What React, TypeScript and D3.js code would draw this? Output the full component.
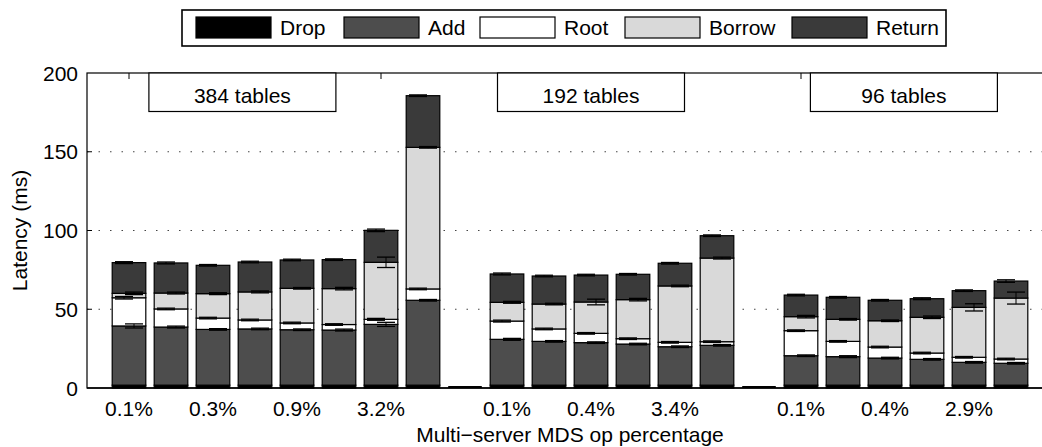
import React from "react";
import * as d3 from "d3";

// ---------- DATA ----------
const categories = [
  "0.1%", "", "0.3%", "", "0.9%", "", "3.2%", "",
  "",
  "0.1%", "", "0.4%", "", "3.4%", "",
  "",
  "0.1%", "", "0.4%", "", "2.9%", "",
];
const groupLabels = ["384 tables", "192 tables", "96 tables"];
const seriesNames = ["Drop", "Add", "Root", "Borrow", "Return"];

const drop = [1.8, 1.8, 1.8, 1.8, 1.8, 1.8, 1.8, 1.8, 0, 1.8, 1.8, 1.8, 1.8, 1.8, 1.8, 0, 1.8, 1.8, 1.8, 1.8, 1.8, 1.8];
const add = [37.6, 36.9, 35.4, 35.7, 35.2, 35.0, 38.6, 53.9, 0, 29.1, 27.8, 27.0, 26.1, 24.4, 25.3, 0, 18.7, 18.1, 17.2, 16.4, 14.5, 13.9];
const root = [17.9, 11.5, 7.2, 5.7, 4.3, 3.5, 3.2, 7.2, 0, 11.6, 7.9, 5.9, 3.4, 2.8, 2.3, 0, 15.9, 9.7, 7.0, 4.0, 3.2, 2.7];
const borrow = [2.8, 10.1, 15.5, 17.8, 22.0, 22.8, 36.2, 89.9, 0, 11.9, 15.8, 19.9, 24.8, 35.8, 53.1, 0, 8.9, 14.0, 16.7, 22.7, 31.7, 38.7];
const ret = [19.5, 19.1, 18.0, 19.0, 18.0, 18.4, 20.3, 32.8, 0, 18.0, 17.8, 17.1, 16.1, 14.4, 14.2, 0, 13.7, 14.0, 13.0, 11.8, 10.6, 10.8];

const dropErr = [0, 0, 0, 0, 0, 0, 0, 0, 0, 0, 0, 0, 0, 0, 0, 0, 0, 0, 0, 0, 0, 0];
const addErr = [1.3, 0.6, 0.5, 0.5, 0.5, 0.6, 1.3, 0.5, 0, 0.6, 0.5, 0.5, 0.5, 0.5, 0.5, 0, 0.5, 0.6, 0.5, 0.5, 0.5, 0.5];
const rootErr = [0.8, 0.5, 0.5, 0.5, 0.5, 0.5, 0.6, 0.5, 0, 0.6, 0.5, 0.5, 0.5, 0.5, 0.5, 0, 0.5, 0.5, 0.5, 0.5, 0.5, 0.5];
const borrowErr = [0.8, 0.6, 0.6, 0.6, 0.5, 0.8, 3.3, 0.5, 0, 0.6, 0.5, 1.8, 0.8, 0.5, 0.6, 0, 0.8, 0.5, 0.5, 0.8, 2.3, 3.8];
const retErr = [0.6, 0.6, 0.5, 0.5, 0.5, 0.5, 0.8, 0.5, 0, 0.6, 0.5, 0.5, 0.5, 0.5, 0.5, 0, 0.5, 0.5, 0.5, 0.6, 0.5, 0.8];

const yTicks = [0, 50, 100, 150, 200];
const gridTicks = [50, 100, 150];

// ---------- LAYOUT / STYLE ----------
const W = 1042, H = 447;
const FONT = "'Liberation Sans', Arial, Helvetica, sans-serif";
const FS = 21;
const colors: Record<string, string> = {
  Drop: "#000000",
  Add: "#4d4d4d",
  Root: "#ffffff",
  Borrow: "#d9d9d9",
  Return: "#3a3a3a",
};
const errOffset: Record<string, number> = { Drop: 0, Add: 5, Root: -5, Borrow: 5, Return: -5 };
const groupBoxCenters = [2.7, 11.0, 18.45]; // in slot units
const legendSwatchX = [196, 344, 480, 625, 792];

export default function App() {
  const x = d3.scaleLinear().domain([-1, 22]).range([87, 1053]);
  const y = d3.scaleLinear().domain([0, 200]).range([388, 73]);
  const step = x(1) - x(0);
  const bw = step * 0.8;

  const values: Record<string, number[]> = { Drop: drop, Add: add, Root: root, Borrow: borrow, Return: ret };
  const errs: Record<string, number[]> = { Drop: dropErr, Add: addErr, Root: rootErr, Borrow: borrowErr, Return: retErr };
  const rows = categories.map((c, i) => {
    const r: any = { i };
    seriesNames.forEach((s) => (r[s] = values[s][i]));
    return r;
  });
  const stack = d3.stack<any>().keys(seriesNames)(rows);

  const capW = 18;
  const xMid = (x(-1) + x(22)) / 2;
  const yMid = (y(0) + y(200)) / 2;

  return (
    <div style={{ position: "absolute", left: 0, top: 0 }}>
      <svg width={W} height={H} style={{ display: "block", fontFamily: FONT }}>
        <rect x={0} y={0} width={W} height={H} fill="#fff" />
        {/* grid */}
        {gridTicks.map((t) => (
          <g key={t}>
            <line x1={x(-1)} x2={x(22)} y1={y(t)} y2={y(t)} stroke="#444" strokeWidth={1} strokeDasharray="1.5,10" />
            <line x1={x(-1)} x2={x(-1) + 5} y1={y(t)} y2={y(t)} stroke="#000" strokeWidth={1} />
          </g>
        ))}
        {/* bars */}
        {stack.map((layer) => (
          <g key={layer.key}>
            {layer.map((d, i) => {
              if (d[1] - d[0] <= 0) return null;
              return (
                <rect
                  key={i}
                  x={x(i) - bw / 2}
                  width={bw}
                  y={y(d[1])}
                  height={y(d[0]) - y(d[1])}
                  fill={colors[layer.key]}
                  stroke="#000"
                  strokeWidth={1.2}
                />
              );
            })}
          </g>
        ))}
        {/* empty slots */}
        {rows.map((r, i) =>
          seriesNames.every((s) => r[s] === 0) ? (
            <line key={"z" + i} x1={x(i) - bw / 2} x2={x(i) + bw / 2} y1={y(0) - 1} y2={y(0) - 1} stroke="#000" strokeWidth={2} />
          ) : null
        )}
        {/* error bars */}
        {stack.map((layer) => (
          <g key={"e" + layer.key}>
            {layer.map((d, i) => {
              const e = errs[layer.key][i];
              if (!e || d[1] - d[0] <= 0) return null;
              const cx = x(i) + errOffset[layer.key];
              return (
                <g key={i} stroke="#000">
                  <line x1={cx} x2={cx} y1={y(d[1] + e)} y2={y(d[1] - e)} strokeWidth={1} />
                  <line x1={cx - capW / 2} x2={cx + capW / 2} y1={y(d[1] + e)} y2={y(d[1] + e)} strokeWidth={1.3} />
                  <line x1={cx - capW / 2} x2={cx + capW / 2} y1={y(d[1] - e)} y2={y(d[1] - e)} strokeWidth={1.3} />
                </g>
              );
            })}
          </g>
        ))}
        {/* frame */}
        <rect x={x(-1)} y={y(200)} width={x(22) - x(-1)} height={y(0) - y(200)} fill="none" stroke="#000" strokeWidth={1.2} />
        <line x1={x(-1)} x2={x(22)} y1={y(0)} y2={y(0)} stroke="#000" strokeWidth={1.6} />
        {/* top ticks */}
        {categories.map((c, i) =>
          c ? <line key={"tt" + i} x1={x(i)} x2={x(i)} y1={y(200)} y2={y(200) + 6} stroke="#000" strokeWidth={1} /> : null
        )}
        {/* x tick labels */}
        {categories.map((c, i) =>
          c ? (
            <text key={"xl" + i} x={x(i)} y={416} textAnchor="middle" fontSize={FS} fill="#000">
              {c}
            </text>
          ) : null
        )}
        {/* y tick labels */}
        {yTicks.map((t) => (
          <text key={"yl" + t} x={78} y={y(t) + 7.5} textAnchor="end" fontSize={FS} fill="#000">
            {t}
          </text>
        ))}
        {/* axis titles */}
        <text x={xMid} y={442} textAnchor="middle" fontSize={FS} fill="#000">
          Multi−server MDS op percentage
        </text>
        <text transform={`translate(27,${yMid}) rotate(-90)`} textAnchor="middle" fontSize={FS} fill="#000">
          Latency (ms)
        </text>
        {/* group boxes */}
        {groupLabels.map((g, k) => {
          const cx = x(groupBoxCenters[k]);
          return (
            <g key={g}>
              <rect x={cx - 93.5} y={y(200)} width={187} height={38.5} fill="#fff" stroke="#000" strokeWidth={1.2} />
              <text x={cx} y={102.5} textAnchor="middle" fontSize={FS} fill="#000">
                {g}
              </text>
            </g>
          );
        })}
        {/* legend */}
        <rect x={182} y={10} width={764} height={36} fill="#fff" stroke="#000" strokeWidth={1.6} />
        {seriesNames.map((s, k) => (
          <g key={"lg" + s}>
            <rect x={legendSwatchX[k]} y={17} width={75} height={21} fill={colors[s]} stroke="#000" strokeWidth={1.2} />
            <text x={legendSwatchX[k] + 84} y={35} fontSize={FS} fill="#000">
              {s}
            </text>
          </g>
        ))}
      </svg>
    </div>
  );
}
